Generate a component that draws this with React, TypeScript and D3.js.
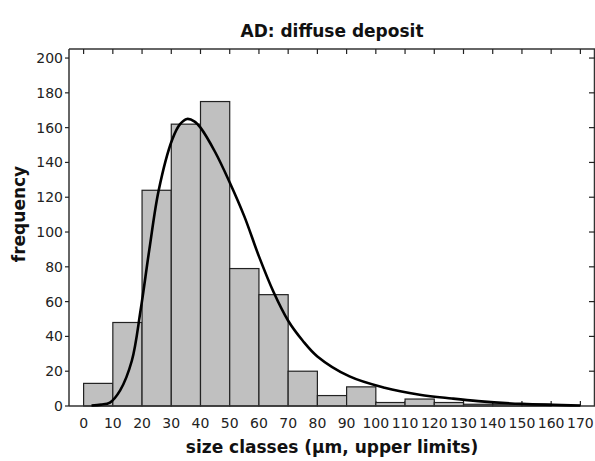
import React from "react";
import * as d3 from "d3";

// histogram bins (upper limits, µm) and counts
const binStarts = [0, 10, 20, 30, 40, 50, 60, 70, 80, 90, 100, 110, 120, 130, 140, 150];
const counts = [13, 48, 124, 162, 175, 79, 64, 20, 6, 11, 2, 4, 2, 1, 1, 1];
const binWidth = 10;

// fitted curve
const curveX = [2.7, 6, 9, 12.5, 16.5, 19.5, 22.5, 25.7, 30.3, 33, 35.4, 38, 40, 45, 50, 55, 60, 65, 70, 75, 80, 91, 103, 115, 126, 135, 150, 170];
const curveY = [0.3, 0.8, 2, 9, 26, 55, 90, 124, 153, 162, 165, 163.5, 160, 146, 128.5, 109, 86, 65.5, 49, 37.5, 28.5, 17, 10.5, 6.5, 4.3, 2.8, 1.2, 0.3];

const xTicks = d3.range(0, 171, 10);
const yTicks = d3.range(0, 201, 20);

const W = 595;
const H = 461;
const left = 69, right = 595, top = 49, bottom = 406;
const font = "'DejaVu Sans', sans-serif";

export default function App() {
  const x = d3.scaleLinear().domain([-5, 175]).range([left, right]);
  const y = d3.scaleLinear().domain([0, 205.2]).range([bottom, top]);

  const line = d3.line<number>()
    .x((_, i) => x(curveX[i]))
    .y((d) => y(d))
    .curve(d3.curveCatmullRom.alpha(0.5));

  return (
    <svg width={W} height={H} style={{ position: "absolute", left: 0, top: 0, background: "#fff" }}>
      {/* frame */}
      <line x1={left} x2={right} y1={top} y2={top} stroke="#333" strokeWidth={1.5} />
      <line x1={left} x2={left} y1={top} y2={bottom} stroke="#333" strokeWidth={1.5} />
      <line x1={right - 0.5} x2={right - 0.5} y1={top} y2={bottom} stroke="#333" strokeWidth={1.5} />

      {/* top & bottom ticks, pointing inward */}
      {xTicks.map((t) => (
        <g key={"xt" + t}>
          <line x1={x(t)} x2={x(t)} y1={top} y2={top + 5} stroke="#222" strokeWidth={1.2} />
          <line x1={x(t)} x2={x(t)} y1={bottom} y2={bottom - 5} stroke="#222" strokeWidth={1.2} />
        </g>
      ))}
      {/* left ticks outward, right ticks inward */}
      {yTicks.map((t) => (
        <g key={"yt" + t}>
          <line x1={left - 4} x2={left} y1={y(t)} y2={y(t)} stroke="#222" strokeWidth={1.2} />
          {t > 0 && <line x1={right - 6} x2={right} y1={y(t)} y2={y(t)} stroke="#222" strokeWidth={1.2} />}
        </g>
      ))}

      {/* bars */}
      {counts.map((c, i) => (
        <rect
          key={"b" + i}
          x={x(binStarts[i])}
          y={y(c)}
          width={x(binStarts[i] + binWidth) - x(binStarts[i])}
          height={y(0) - y(c)}
          fill="#c0c0c0"
          stroke="#222"
          strokeWidth={1.2}
        />
      ))}

      {/* bottom axis line */}
      <line x1={left} x2={right} y1={bottom} y2={bottom} stroke="#333" strokeWidth={1.5} />

      {/* fitted curve */}
      <path d={line(curveY) || ""} fill="none" stroke="#000" strokeWidth={2.6} />

      {/* tick labels */}
      {xTicks.map((t) => (
        <text key={"xl" + t} x={x(t)} y={428} textAnchor="middle" fontFamily={font} fontSize={14} fill="#222">
          {t}
        </text>
      ))}
      {yTicks.map((t) => (
        <text key={"yl" + t} x={63} y={y(t) + 5} textAnchor="end" fontFamily={font} fontSize={14} fill="#222">
          {t}
        </text>
      ))}

      {/* titles */}
      <text x={332} y={37} textAnchor="middle" fontFamily={font} fontSize={17} fontWeight="bold" fill="#111">
        AD: diffuse deposit
      </text>
      <text x={332} y={453} textAnchor="middle" fontFamily={font} fontSize={17} fontWeight="bold" fill="#111">
        size classes (µm, upper limits)
      </text>
      <text transform="translate(25,214) rotate(-90)" textAnchor="middle" fontFamily={font} fontSize={17} fontWeight="bold" fill="#111">
        frequency
      </text>
    </svg>
  );
}
